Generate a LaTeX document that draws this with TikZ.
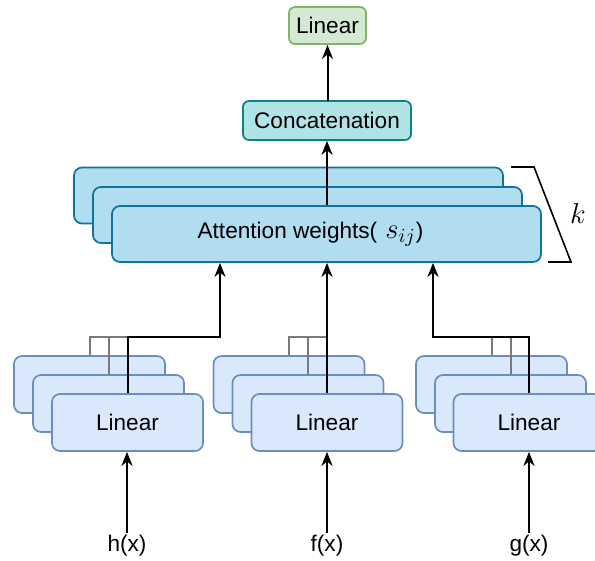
\documentclass[tikz,border=0pt]{standalone}
\usepackage{fontspec}
\setmainfont{Liberation Sans}
\usetikzlibrary{arrows.meta,calc}
\definecolor{linfill}{HTML}{DAE8FC}
\definecolor{linline}{HTML}{6C8EBF}
\definecolor{attfill}{HTML}{B1DDF0}
\definecolor{attline}{HTML}{10739E}
\definecolor{catfill}{HTML}{B0E3E6}
\definecolor{catline}{HTML}{0E8088}
\definecolor{topfill}{HTML}{D5E8D4}
\definecolor{topline}{HTML}{82B366}
\definecolor{linkgray}{HTML}{7A7A7A}
\tikzset{
  base/.style={draw, line width=0.85pt, rounded corners=4pt, inner sep=0pt, font=\fontsize{11.3}{13}\selectfont},
  linbox/.style={base, fill=linfill, draw=linline, minimum width=75.5pt, minimum height=28.5pt},
  attbox/.style={base, fill=attfill, draw=attline, minimum width=214.5pt, minimum height=28pt},
  catbox/.style={base, fill=catfill, draw=catline, minimum width=84pt, minimum height=19.5pt, rounded corners=3pt},
  topbox/.style={base, fill=topfill, draw=topline, minimum width=38.5pt, minimum height=18.5pt, rounded corners=3pt},
  arr/.style={line width=1pt, black, -{Stealth[length=7pt,width=5.5pt,inset=2.2pt]}},
  graylink/.style={line width=1pt, linkgray},
  lbl/.style={font=\fontsize{11.3}{13}\selectfont, inner sep=1pt},
  brace/.style={line width=0.8pt, black}
}
\begin{document}
\begin{tikzpicture}[x=0.5pt,y=-0.5pt]
\useasboundingbox (0,0) rectangle (595,561);
% attention stack
\node[attbox] (A1) at (288.5,195.5) {};
\node[attbox] (A2) at (307.5,215) {};
\node[attbox] (A3) at (326.5,234) {Attention weights(\hspace{4pt}\fontsize{14}{15}\selectfont$s_{ij}$\fontsize{11.3}{13}\selectfont)\hspace*{16pt}};
% concat and top linear
\node[catbox] (C) at (327,120.5) {Concatenation};
\node[topbox] (T) at (327.5,25.5) {Linear};
% bottom stacks
\node[linbox] (L1) at (89.5,384.5) {};
\node[linbox] (L2) at (108.5,403.5) {};
\node[linbox] (L3) at (127.5,422.5) {Linear};
\node[linbox] (M1) at (289,384.5) {};
\node[linbox] (M2) at (308,403.5) {};
\node[linbox] (M3) at (327,422.5) {Linear};
\node[linbox] (R1) at (491.5,384.5) {};
\node[linbox] (R2) at (510.5,403.5) {};
\node[linbox] (R3) at (529,422.5) {Linear};
% inputs
\node[lbl] (h) at (127,546) {h(x)};
\node[lbl] (f) at (327,546) {f(x)};
\node[lbl] (g) at (529,546) {g(x)};
% junction points
\coordinate (jL) at (220,337);
\coordinate (jM) at (327,337);
\coordinate (jR) at (433,337);
% gray links
\draw[graylink] (L1.north) |- (jL -| L3.north);
\draw[graylink] (L2.north) -- (L2.north |- jL);
\draw[graylink] (M1.north) |- (jM -| M3.north);
\draw[graylink] (M2.north) -- (M2.north |- jM);
\draw[graylink] (R1.north) |- (jR -| R3.north);
\draw[graylink] (R2.north) -- (R2.north |- jR);
% black links to attention
\draw[arr] (L3.north) |- (jL) -- (jL |- A3.south);
\draw[arr] (M3.north) -- (M3.north |- A3.south);
\draw[arr] (R3.north) |- (jR) -- (jR |- A3.south);
% inputs to linear
\draw[arr] (h.north) -- (h.north |- L3.south);
\draw[arr] (f.north) -- (f.north |- M3.south);
\draw[arr] (g.north) -- (g.north |- R3.south);
% up the chain
\draw[arr] (A3.north -| C.south) -- (C.south);
\draw[arr] (C.north) -- (C.north -| T.south) -- (T.south);
% bracket
\coordinate (b1) at (511,167);
\coordinate (b2) at (534,167);
\coordinate (b3) at (571,262);
\coordinate (b4) at (548,262);
\draw[brace] (b1) -- (b2) -- (b3) -- (b4);
\node[lbl] (k) at (578,214) {\fontsize{15}{17}\selectfont$k$};
\end{tikzpicture}
\end{document}
